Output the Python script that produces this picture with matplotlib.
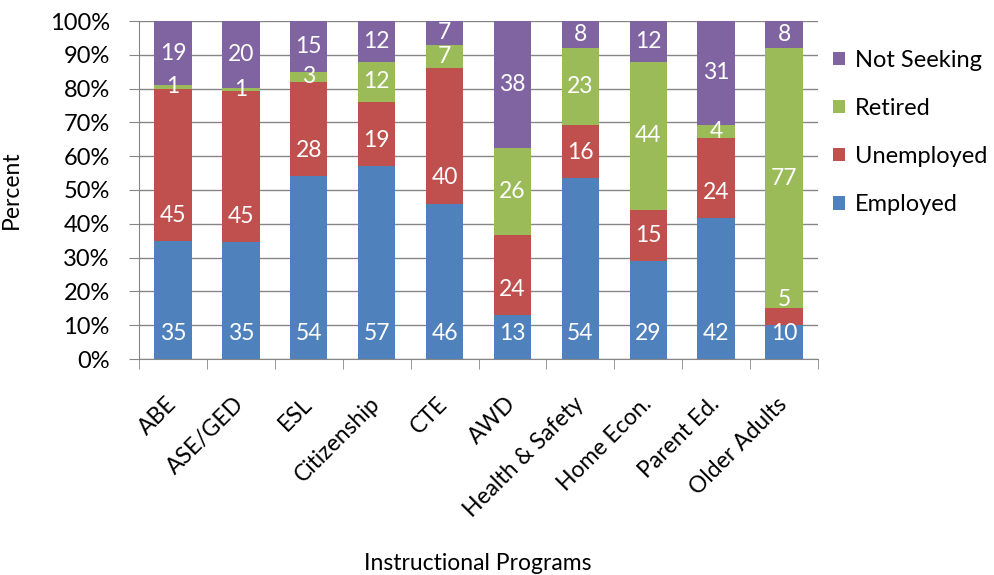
import matplotlib.pyplot as plt
import numpy as np

plt.rcParams['font.family'] = ['Lato', 'DejaVu Sans']

programs = ['ABE', 'ASE/GED', 'ESL', 'Citizenship', 'CTE', 'AWD',
            'Health & Safety', 'Home Econ.', 'Parent Ed.', 'Older Adults']
employed = [35, 35, 54, 57, 46, 13, 54, 29, 42, 10]
unemployed = [45, 45, 28, 19, 40, 24, 16, 15, 24, 5]
retired = [1, 1, 3, 12, 7, 26, 23, 44, 4, 77]
not_seeking = [19, 20, 15, 12, 7, 38, 8, 12, 31, 8]

# name, values, colour, where the data label sits
series = [('Employed', employed, '#4F81BD', 'base'),
          ('Unemployed', unemployed, '#C0504D', 'base'),
          ('Retired', retired, '#9BBB59', 'center'),
          ('Not Seeking', not_seeking, '#8064A2', 'center')]

grey = '#868686'
fs = 16.5

fig = plt.figure(figsize=(9.94, 5.75), dpi=100)
ax = fig.add_axes([139/994, 1 - 359/575, 679/994, 338/575])

x = np.arange(len(programs))
totals = np.sum([s[1] for s in series], axis=0)
bottom = np.zeros(len(programs))
handles = []
for name, vals, col, pos in series:
    vals = np.array(vals, dtype=float)
    pct = vals / totals * 100  # 100% stacked
    b = ax.bar(x, pct, 0.55, bottom=bottom, color=col, label=name, zorder=2)
    handles.append(b)
    for xi, v, p, bt in zip(x, vals, pct, bottom):
        ly = bt + 7.6 if pos == 'base' else bt + p / 2
        ax.text(xi, ly, '%d' % v, ha='center', va='center',
                color='white', fontsize=fs, zorder=3)
    bottom += pct

ax.set_xlim(-0.5, len(programs) - 0.5)
ax.set_ylim(0, 100)
ax.set_yticks(np.arange(0, 101, 10))
ax.set_yticklabels(['%d%%' % v for v in range(0, 101, 10)], fontsize=17)
ax.yaxis.grid(True, color=grey, linewidth=1, zorder=0)
ax.tick_params(axis='y', length=7, color=grey, pad=14)

# category labels on the centres, tick marks on the boundaries
ax.set_xticks(x)
ax.set_xticklabels(programs, rotation=45, ha='right', va='center',
                   rotation_mode='anchor', fontsize=fs)
ax.tick_params(axis='x', length=0, pad=30)
ax.set_xticks(np.arange(-0.5, len(programs), 1), minor=True)
ax.tick_params(axis='x', which='minor', length=7, color=grey)

for s in ['top', 'right']:
    ax.spines[s].set_visible(False)
for s in ['left', 'bottom']:
    ax.spines[s].set_color(grey)

ax.set_ylabel('Percent', fontsize=fs)
ax.yaxis.set_label_coords(-0.172, 0.5)
fig.text(478/994, 1 - 563/575, 'Instructional Programs', ha='center',
         va='center', fontsize=fs)

leg = fig.legend(handles[::-1], [s[0] for s in series][::-1],
                 loc='upper left', bbox_to_anchor=(821/994, 1 - 38/575),
                 frameon=False, fontsize=17, handlelength=0.5,
                 handleheight=0.5, handletextpad=0.45, labelspacing=1.15,
                 borderpad=0)

fig.savefig('out.png', dpi=100)
